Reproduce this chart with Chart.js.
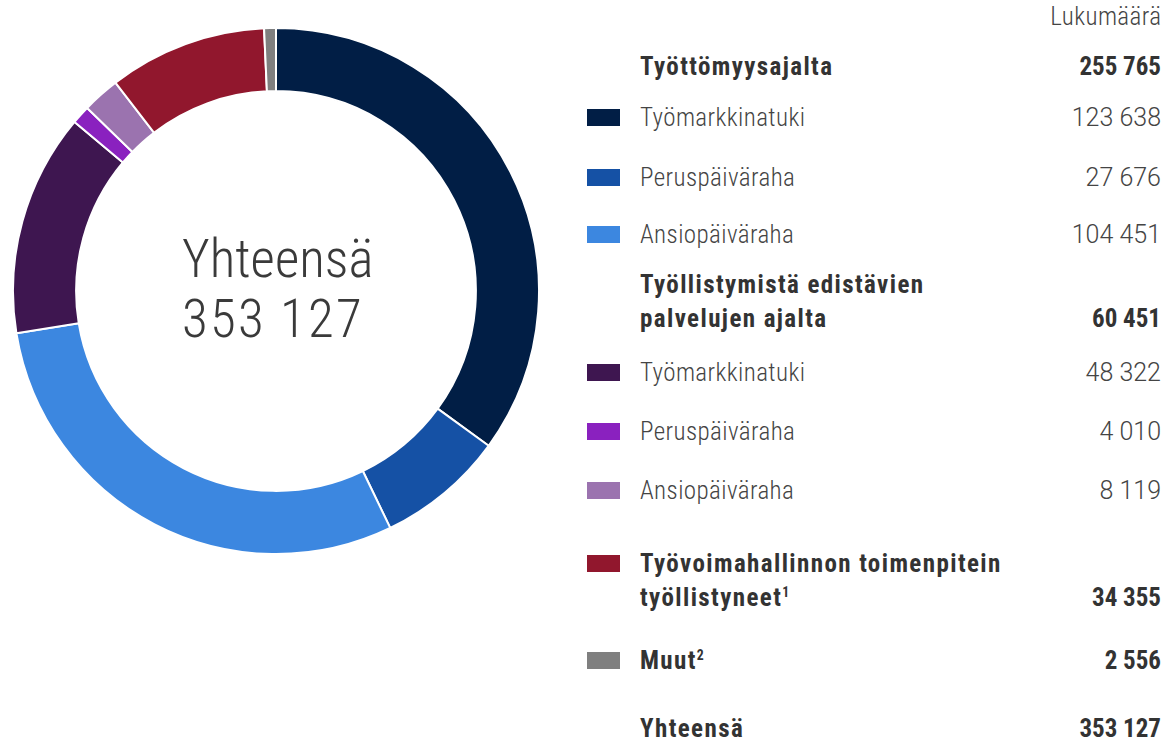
<!DOCTYPE html>
<html>
<head>
<meta charset="utf-8">
<script src="https://cdn.jsdelivr.net/npm/chart.js@4"></script>
<style>
    body {
        margin: 0;
        width: 1168px;
        height: 744px;
        background: #fff;
        position: relative;
        overflow: hidden;
        font-family: "Roboto Condensed", "Liberation Sans Narrow", "Arial Narrow", Roboto, sans-serif;
        font-stretch: condensed;
        color: #444;
    }
    #chart-wrap {
        position: absolute;
        left: 12px;
        top: 27px;
        width: 528px;
        height: 528px;
    }
    #center-text {
        position: absolute;
        left: 182px;
        top: 229px;
        font-size: 53px;
        font-weight: 300;
        line-height: 60px;
        color: #3a3a3a;
    }
    #center-text .num {
        letter-spacing: 2.2px;
    }
    .row {
        position: absolute;
        left: 587px;
        width: 574px;
        display: flex;
        align-items: flex-end;
        font-size: 25px;
        line-height: 34px;
    }
    .swatch {
        position: absolute;
        left: 0;
        top: 8px;
        width: 33px;
        height: 17px;
    }
    .label {
        margin-left: 53px;
        flex: 1;
        font-weight: 300;
        letter-spacing: 0.4px;
    }
    .value {
        text-align: right;
        font-weight: 300;
        font-family: Roboto, sans-serif;
        font-stretch: normal;
    }
    .title {
        font-family: "Roboto Condensed", Roboto, sans-serif;
        font-stretch: condensed;
        letter-spacing: 0.4px;
        margin-right: -0.4px;
    }
    .bold .label {
        font-weight: 700;
        letter-spacing: 1.4px;
        color: #333;
    }
    .bold .value {
        font-weight: 700;
        font-family: "Roboto Condensed", Roboto, sans-serif;
        font-stretch: condensed;
        color: #333;
    }
    sup {
        font-size: 0.55em;
        line-height: 0;
        letter-spacing: 0;
    }
</style>
</head>
<body>
<div id="chart-wrap"><canvas id="donut"></canvas></div>
<div id="center-text"></div>
<div id="legend"></div>

<script>
const labels = ['Työmarkkinatuki', 'Peruspäiväraha', 'Ansiopäiväraha', 'Työmarkkinatuki', 'Peruspäiväraha', 'Ansiopäiväraha', 'Työvoimahallinnon toimenpitein<br>työllistyneet<sup>1</sup>', 'Muut<sup>2</sup>'];
const values = [123638, 27676, 104451, 48322, 4010, 8119, 34355, 2556];
const colors = ['#011e45', '#1551a5', '#3c87e0', '#3e1650', '#8a21bf', '#9b73af', '#91172d', '#7f7f7f'];

const groupLabels = ['Työttömyysajalta', 'Työllistymistä edistävien<br>palvelujen ajalta'];
const groupTotals = [255765, 60451];
const totalLabel = 'Yhteensä';
const totalValue = 353127;
const columnTitle = 'Lukumäärä';

function fmt(n) {
    return n.toString().replace(/\B(?=(\d{3})+(?!\d))/g, ' ');
}

document.getElementById('center-text').innerHTML =
    totalLabel + '<br><span class="num">' + fmt(totalValue) + '</span>';

new Chart(document.getElementById('donut'), {
    type: 'doughnut',
    data: {
        labels: labels,
        datasets: [{
            data: values,
            backgroundColor: colors,
            borderColor: '#ffffff',
            borderWidth: 2,
        }],
    },
    options: {
        responsive: true,
        maintainAspectRatio: false,
        animation: false,
        cutout: '76%',
        plugins: {
            legend: { display: false },
            tooltip: { enabled: false },
        },
    },
});

// legend table on the right
const legend = document.getElementById('legend');

function addRow(top, label, value, color, bold) {
    const row = document.createElement('div');
    row.className = 'row' + (bold ? ' bold' : '');
    row.style.top = top + 'px';
    if (color) {
        const sw = document.createElement('div');
        sw.className = 'swatch';
        sw.style.background = color;
        row.appendChild(sw);
    }
    const l = document.createElement('div');
    l.className = 'label';
    l.innerHTML = label;
    const v = document.createElement('div');
    v.className = 'value';
    v.textContent = value;
    row.appendChild(l);
    row.appendChild(v);
    legend.appendChild(row);
}

const title = document.createElement('div');
title.className = 'row';
title.style.top = '0px';
title.innerHTML = '<div class="label"></div><div class="value title">' + columnTitle + '</div>';
legend.appendChild(title);

addRow(50, groupLabels[0], fmt(groupTotals[0]), null, true);
addRow(101, labels[0], fmt(values[0]), colors[0]);
addRow(161, labels[1], fmt(values[1]), colors[1]);
addRow(218, labels[2], fmt(values[2]), colors[2]);
addRow(268, groupLabels[1], fmt(groupTotals[1]), null, true);
addRow(356, labels[3], fmt(values[3]), colors[3]);
addRow(415, labels[4], fmt(values[4]), colors[4]);
addRow(474, labels[5], fmt(values[5]), colors[5]);
addRow(547, labels[6], fmt(values[6]), colors[6], true);
addRow(644, labels[7], fmt(values[7]), colors[7], true);
addRow(712, totalLabel, fmt(totalValue), null, true);
</script>
</body>
</html>
